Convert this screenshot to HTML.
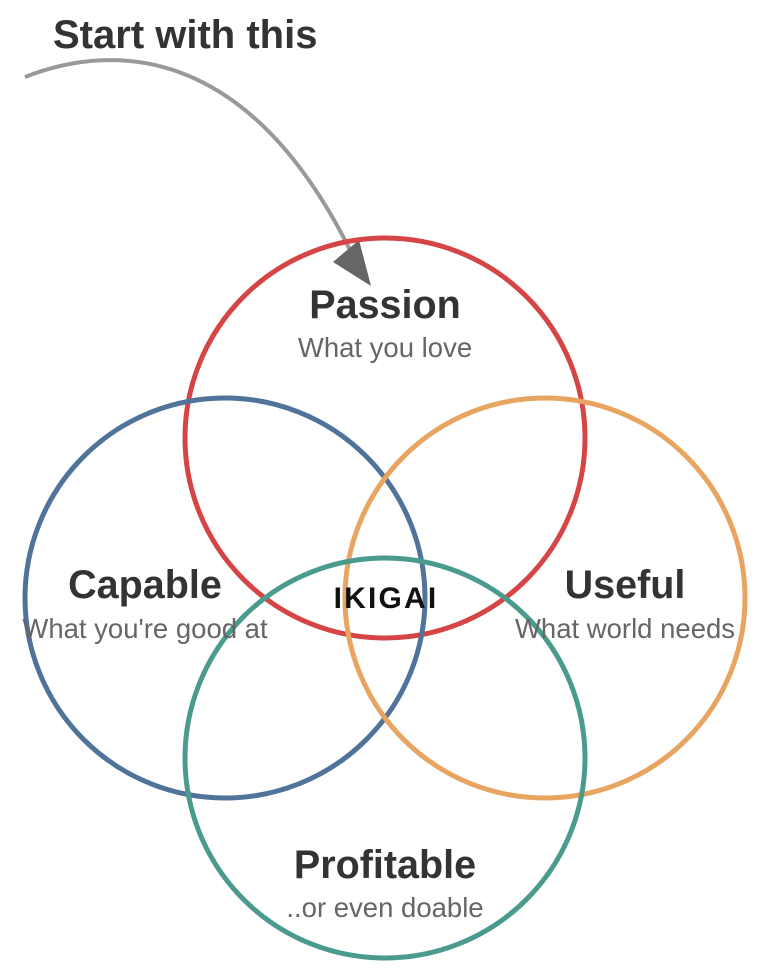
<!DOCTYPE html>
<html><head><meta charset="utf-8"><style>
html,body{margin:0;padding:0;background:#fff;}
svg{display:block;}
text{font-family:"Liberation Sans",Arial,sans-serif;}
</style></head><body>
<svg width="762" height="976" viewBox="0 0 762 976" xmlns="http://www.w3.org/2000/svg">
<text x="53" y="48" font-size="40" font-weight="bold" fill="#333">Start with this</text>
<path d="M25,77 C120,40 250,50 350,250" fill="none" stroke="#999" stroke-width="4"/>
<polygon points="371,286 333,262 359,240" fill="#666"/>
<g fill="none" stroke-width="5">
<circle cx="385" cy="438" r="200" stroke="#d64545"/>
<circle cx="225" cy="598" r="200" stroke="#4f7399"/>
<circle cx="545" cy="598" r="200" stroke="#e8a562"/>
<circle cx="385" cy="758" r="200" stroke="#4a9b8e"/>
</g>
<g text-anchor="middle">
<text x="385" y="318" font-size="39.5" font-weight="bold" fill="#333">Passion</text>
<text x="385" y="357" font-size="27.5" fill="#666">What you love</text>
<text x="145" y="598" font-size="39.5" font-weight="bold" fill="#333">Capable</text>
<text x="145" y="638" font-size="27.5" fill="#666">What you're good at</text>
<text x="625" y="598" font-size="39.5" font-weight="bold" fill="#333">Useful</text>
<text x="625" y="638" font-size="27.5" fill="#666">What world needs</text>
<text x="385" y="878" font-size="39.5" font-weight="bold" fill="#333">Profitable</text>
<text x="385" y="917" font-size="27.5" fill="#666">..or even doable</text>
<text x="386" y="608" font-size="30" font-weight="bold" fill="#111" letter-spacing="2.2">IKIGAI</text>
</g>
</svg>
</body></html>
